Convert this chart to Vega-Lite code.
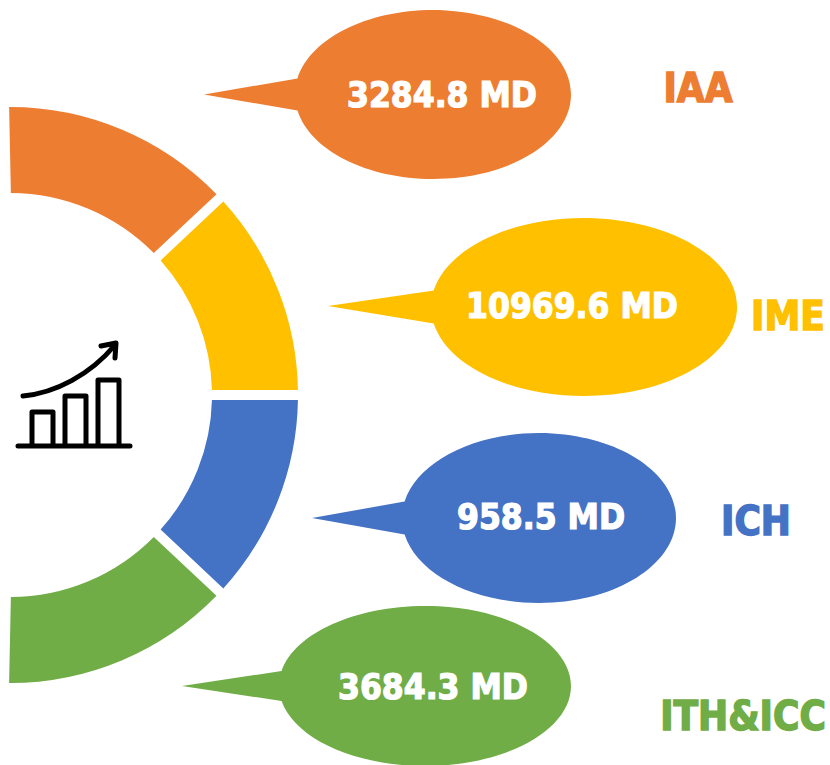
{"$schema":"https://vega.github.io/schema/vega-lite/v6.json","width":830,"height":765,"padding":0,"autosize":{"type":"none"},"background":"white","view":{"stroke":null},
"data":{"values":[
{"category":"IAA","amount":3284.8,"label":"3284.8 MD","rank":1,"from":0,"to":1},
{"category":"IME","amount":10969.6,"label":"10969.6 MD","rank":2,"from":1,"to":2},
{"category":"ICH","amount":958.5,"label":"958.5 MD","rank":3,"from":2,"to":3},
{"category":"ITH&ICC","amount":3684.3,"label":"3684.3 MD","rank":4,"from":3,"to":4}]},
"layer":[
{"mark":{"type":"arc","radius":288,"radius2":202,"padAngle":0.0284},
"encoding":{
"x":{"field":"rank","type":"quantitative","scale":{"domain":[1,4],"range":[10,10]},"axis":null},
"y":{"field":"rank","type":"quantitative","scale":{"domain":[1,4],"range":[395,395]},"axis":null},
"theta":{"field":"from","type":"quantitative","scale":{"domain":[0,1,2,3,4],"range":[-0.0204,0.8168,1.5708,2.3248,3.162]}},
"theta2":{"field":"to"},
"color":{"field":"category","type":"nominal","scale":{"domain":["IAA","IME","ICH","ITH&ICC"],"range":["#ED7D31","#FFC000","#4472C4","#70AD47"]},"legend":null}}},
{"mark":{"type":"point","filled":true,"opacity":1,"size":4},
"encoding":{
"x":{"field":"rank","type":"quantitative","scale":{"domain":[1,2,3,4],"range":[433,584,539,425]},"axis":null},
"y":{"field":"rank","type":"quantitative","scale":{"domain":[1,2,3,4],"range":[94.5,307,518,686]},"axis":null},
"shape":{"field":"category","type":"nominal","scale":{"domain":["IAA","IME","ICH","ITH&ICC"],"range":[
"M-135.5 -16 L-229 0 L-135.5 16 A138 84.5 0 1 0 -135.5 -16 Z",
"M-150.3 -16.5 L-256 -1 L-150.3 16.5 A153 89 0 1 0 -150.3 -16.5 Z",
"M-134.4 -16.5 L-227 0 L-134.4 16.5 A137 85 0 1 0 -134.4 -16.5 Z",
"M-143.4 -15 L-243 0 L-143.4 15 A146 80 0 1 0 -143.4 -15 Z"]},"legend":null},
"color":{"field":"category","type":"nominal","scale":{"domain":["IAA","IME","ICH","ITH&ICC"],"range":["#ED7D31","#FFC000","#4472C4","#70AD47"]},"legend":null}}},
{"mark":{"type":"text","font":"DejaVu Sans Condensed","fontWeight":"bold","fontSize":35,"fill":"white","stroke":"white","strokeWidth":1.2,"align":"center","baseline":"middle"},
"encoding":{
"x":{"field":"rank","type":"quantitative","scale":{"domain":[1,2,3,4],"range":[442,572,541,433]},"axis":null},
"y":{"field":"rank","type":"quantitative","scale":{"domain":[1,2,3,4],"range":[96,307,518,688]},"axis":null},
"text":{"field":"label","type":"nominal"}}},
{"mark":{"type":"text","font":"DejaVu Sans Condensed","fontWeight":"bold","fontSize":40,"strokeWidth":1.4,"align":"center","baseline":"middle"},
"encoding":{
"x":{"field":"rank","type":"quantitative","scale":{"domain":[1,2,3,4],"range":[698,788,756,743]},"axis":null},
"y":{"field":"rank","type":"quantitative","scale":{"domain":[1,2,3,4],"range":[90,318,523,718]},"axis":null},
"text":{"field":"category","type":"nominal"},
"color":{"field":"category","type":"nominal","scale":{"domain":["IAA","IME","ICH","ITH&ICC"],"range":["#ED7D31","#FFC000","#4472C4","#70AD47"]},"legend":null},
"stroke":{"field":"category","type":"nominal","scale":{"domain":["IAA","IME","ICH","ITH&ICC"],"range":["#ED7D31","#FFC000","#4472C4","#70AD47"]},"legend":null}}},
{"data":{"values":[{"icon":"growth"}]},
"mark":{"type":"point","filled":false,"opacity":1,"size":4,"stroke":"black","strokeWidth":5,"strokeCap":"round","strokeJoin":"round",
"shape":"M-57 51 H55 M-43 51 V17 H-22 V51 M-10 51 V1 H11 V51 M23 51 V-15 H44 V51 M-52 1 C-20 -2 15 -20 40 -50 M26 -49 L41 -52 L40 -37"},
"encoding":{
"x":{"datum":75,"type":"quantitative","scale":{"domain":[0,830],"range":[0,830]},"axis":null},
"y":{"datum":395,"type":"quantitative","scale":{"domain":[0,765],"range":[0,765]},"axis":null}}}
],
"resolve":{"scale":{"x":"independent","y":"independent"}}}
